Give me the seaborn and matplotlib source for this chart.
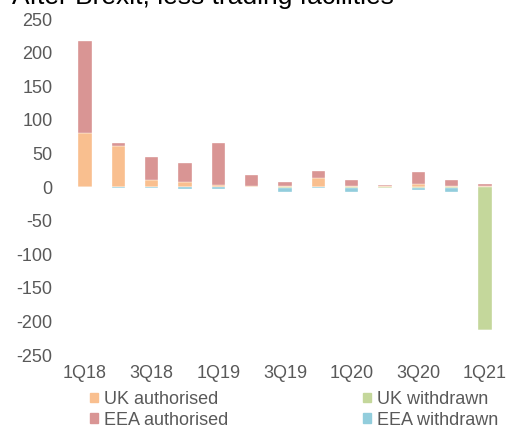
import matplotlib
matplotlib.use("Agg")
import matplotlib.pyplot as plt
import matplotlib.patches as mpatches
import numpy as np
import seaborn as sns

quarters = ["1Q18", "2Q18", "3Q18", "4Q18", "1Q19", "2Q19", "3Q19",
            "4Q19", "1Q20", "2Q20", "3Q20", "4Q20", "1Q21"]
uk_authorised = [80, 61, 10, 8, 3, 1, 2, 13, 2, 1, 4, 2, 1]
eea_authorised = [138, 5, 34, 27, 63, 17, 6, 11, 8, 2, 18, 8, 3]
uk_withdrawn = [0, 0, 0, 0, 0, 0, -1, 0, -1, -1, -1, -1, -213]
eea_withdrawn = [0, -1, -1, -3, -3, 0, -6, -2, -6, -1, -4, -7, 0]
tick_labels = ["1Q18", "3Q18", "1Q19", "3Q19", "1Q20", "3Q20", "1Q21"]

colors = {"UK authorised": "#F9BF8F", "EEA authorised": "#D99594",
          "UK withdrawn": "#C4D79B", "EEA withdrawn": "#92CDDC"}

sns.set_style("white")
plt.rcParams["font.family"] = ["Liberation Sans", "DejaVu Sans"]
plt.rcParams["axes.unicode_minus"] = False

fig = plt.figure(figsize=(5.07, 4.28), dpi=100)
ax = fig.add_axes([65 / 507, 1 - 355 / 428, 440 / 507, 336 / 428])

uk_a = np.array(uk_authorised)
uk_w = np.array(uk_withdrawn)
bar_kw = dict(width=0.4, ax=ax, edgecolor="white", linewidth=0.25, saturation=1)

# positive side: UK authorised, then EEA authorised on top
sns.barplot(x=quarters, y=uk_authorised, color=colors["UK authorised"], **bar_kw)
sns.barplot(x=quarters, y=eea_authorised, bottom=uk_a,
            color=colors["EEA authorised"], **bar_kw)
# negative side: UK withdrawn, then EEA withdrawn below it
sns.barplot(x=quarters, y=uk_withdrawn, color=colors["UK withdrawn"], **bar_kw)
sns.barplot(x=quarters, y=eea_withdrawn, bottom=uk_w,
            color=colors["EEA withdrawn"], **bar_kw)

ax.set_ylim(-250, 250)
ax.set_xlim(-0.6, 12.6)
ax.set_yticks(range(-250, 251, 50))
ax.set_xticks([quarters.index(t) for t in tick_labels])
ax.set_xticklabels(tick_labels)
ax.tick_params(axis="both", colors="#595959", labelsize=13, length=0)
ax.tick_params(axis="x", pad=7)
ax.tick_params(axis="y", pad=9)
for s in ax.spines.values():
    s.set_visible(False)
ax.set_xlabel("")
ax.set_ylabel("")

# title sits partly above the canvas, as in the source image
fig.text(12 / 507, 1 - 4 / 428, "After Brexit, less trading facilities",
         fontsize=19, color="black", va="baseline", ha="left")

order = ["UK authorised", "EEA authorised", "UK withdrawn", "EEA withdrawn"]
handles = [mpatches.Patch(color=colors[k], label=k) for k in order]
leg = fig.legend(handles=handles, ncol=2, loc="upper left",
                 bbox_to_anchor=(90 / 507, 1 - 391 / 428), frameon=False,
                 fontsize=13, handlelength=0.45, handleheight=0.45,
                 handletextpad=0.3, columnspacing=7.5, labelspacing=0.2,
                 borderaxespad=0, borderpad=0)
for t in leg.get_texts():
    t.set_color("#595959")

fig.savefig("out.png", dpi=100)
